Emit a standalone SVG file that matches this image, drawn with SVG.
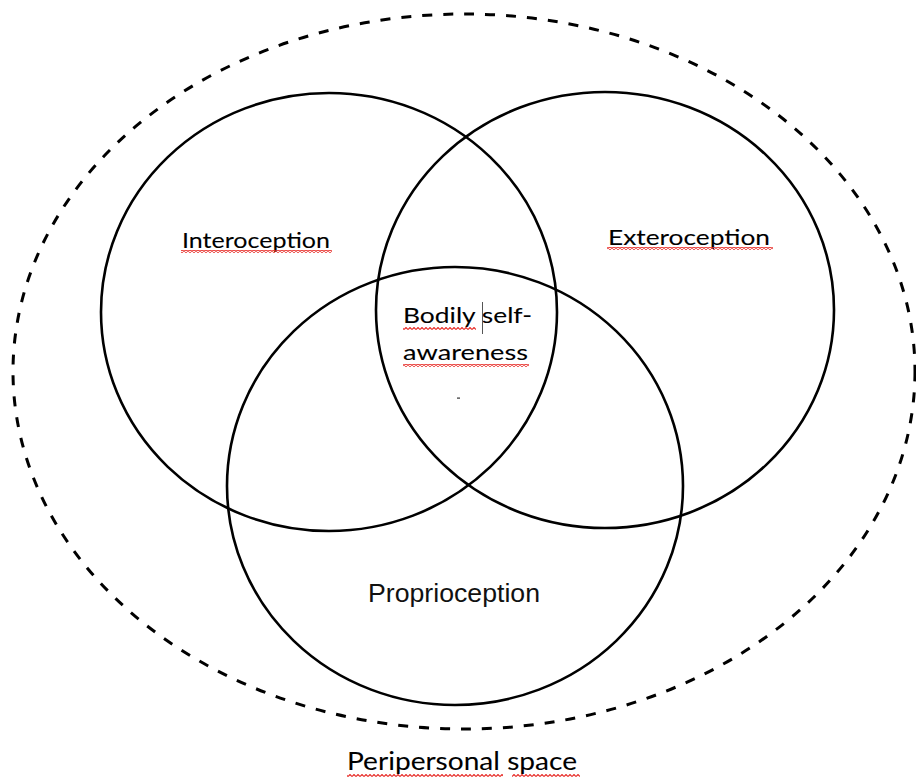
<svg xmlns="http://www.w3.org/2000/svg" width="916" height="781" viewBox="0 0 916 781">
  <style>
    .circle { fill: none; stroke: #000; stroke-width: 2.6; }
    .dashed { fill: none; stroke: #000; stroke-width: 3; stroke-dasharray: 10 11; }
    .lbl { font-family: Lato, "Open Sans", "Liberation Sans", sans-serif; font-size: 22px; fill: #000; stroke: #000; stroke-width: 0.08; }
    .big { font-size: 25px; }
    .arial { font-family: "Liberation Sans", Arial, sans-serif; font-size: 25px; fill: #111; }
    .squig { fill: url(#wave); }
  </style>
  <defs>
    <pattern id="wave" x="0" y="0" width="4" height="3" patternUnits="userSpaceOnUse">
      <path d="M0,2.5 L2,0.5 L4,2.5" fill="none" stroke="#e8322e" stroke-width="1.2"/>
    </pattern>
  </defs>
  <rect width="916" height="781" fill="#fff"/>

  <g id="peripersonal-space">
    <ellipse class="dashed" cx="464" cy="371.5" rx="451" ry="357.5"/>
    <text class="lbl big" x="347" y="770" textLength="230" lengthAdjust="spacingAndGlyphs">Peripersonal space</text>
    <rect class="squig" x="347" y="774" width="156" height="3"/>
    <rect class="squig" x="512" y="774" width="68" height="3"/>
  </g>

  <g id="interoception">
    <ellipse class="circle" cx="329" cy="312" rx="228" ry="219"/>
    <text class="lbl" x="182" y="248" textLength="148" lengthAdjust="spacingAndGlyphs">Interoception</text>
    <rect class="squig" x="181" y="250" width="151" height="3"/>
  </g>

  <g id="exteroception">
    <ellipse class="circle" cx="605" cy="310" rx="229" ry="218"/>
    <text class="lbl" x="608" y="245" textLength="162" lengthAdjust="spacingAndGlyphs">Exteroception</text>
    <rect class="squig" x="607" y="247" width="166" height="3"/>
  </g>

  <g id="proprioception">
    <ellipse class="circle" cx="455" cy="486" rx="228" ry="219"/>
    <text class="arial" x="368" y="602" textLength="172" lengthAdjust="spacingAndGlyphs">Proprioception</text>
  </g>

  <g id="bodily-self-awareness">
    <text class="lbl" x="403" y="323" textLength="129" lengthAdjust="spacingAndGlyphs">Bodily self-</text>
    <text class="lbl" x="403" y="360" textLength="125" lengthAdjust="spacingAndGlyphs">awareness</text>
    <rect class="squig" x="403" y="327" width="73" height="3"/>
    <rect class="squig" x="403" y="364" width="126" height="3"/>
    <line x1="482.5" y1="302" x2="482.5" y2="334" stroke="#555" stroke-width="1"/>
    <rect x="457" y="397.5" width="3" height="1.2" fill="#333"/>
  </g>
</svg>
